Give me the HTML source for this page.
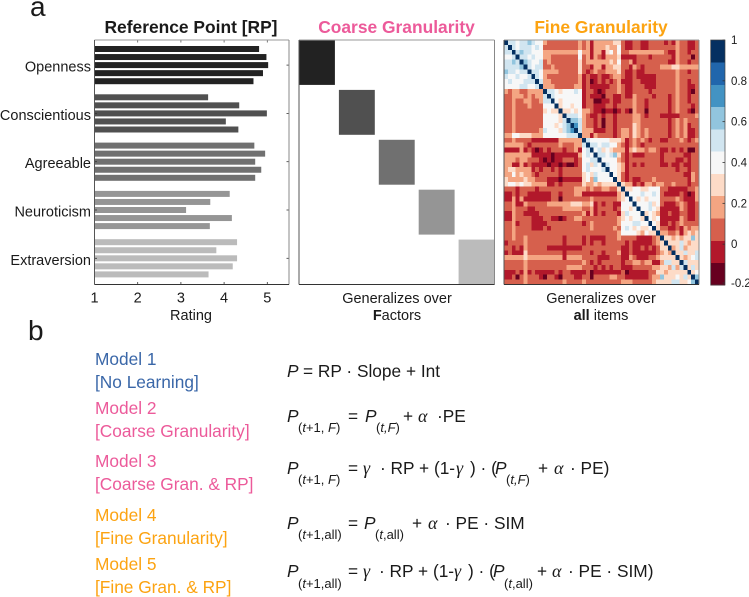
<!DOCTYPE html>
<html lang="en">
<head>
<meta charset="utf-8">
<title>Reference point and granularity models</title>
<style>
html,body{margin:0;padding:0;background:#fff}
svg{display:block}
text{font-family:"Liberation Sans",Arial,sans-serif;fill:#1a1a1a}
.ttl{font-size:17.4px;font-weight:bold;text-anchor:middle}
.lab{font-size:14.5px}
.mid{text-anchor:middle}
.end{text-anchor:end}
.mod{font-size:17.3px}
.eq{font-size:17.3px}
.sub{font-size:13px}
.sym{font-family:"Liberation Serif","DejaVu Serif",serif;font-style:italic;font-size:18px}
.it{font-style:italic}
</style>
</head>
<body>
<svg id="fig" width="749" height="597" viewBox="0 0 749 597" xmlns="http://www.w3.org/2000/svg">
<rect width="749" height="597" fill="#fff"/>
<text x="30" y="16" font-size="28">a</text>
<text x="28" y="340" font-size="28">b</text>

<text class="ttl" x="191" y="33">Reference Point [RP]</text>
<text class="ttl" x="396.5" y="33" style="fill:#ec5a9a">Coarse Granularity</text>
<text class="ttl" x="601" y="33" style="fill:#fca311">Fine Granularity</text>

<g id="bars"></g>
<g id="coarse"></g>
<g id="fine"></g>
<g id="cbar"></g>

<text class="lab mid" x="191" y="320">Rating</text>
<text class="lab mid" x="397" y="303">Generalizes over</text>
<text class="lab mid" x="397" y="320"><tspan font-weight="bold">F</tspan>actors</text>
<text class="lab mid" x="601" y="303">Generalizes over</text>
<text class="lab mid" x="601" y="320"><tspan font-weight="bold">all</tspan> items</text>

<g>
<text class="mod" x="95" y="365" style="fill:#3a67a8">Model 1</text>
<text class="mod" x="95" y="388" style="fill:#3a67a8">[No Learning]</text>
<text class="mod" x="95" y="414" style="fill:#ec5a9a">Model 2</text>
<text class="mod" x="95" y="437" style="fill:#ec5a9a">[Coarse Granularity]</text>
<text class="mod" x="95" y="467" style="fill:#ec5a9a">Model 3</text>
<text class="mod" x="95" y="490" style="fill:#ec5a9a">[Coarse Gran. &amp; RP]</text>
<text class="mod" x="95" y="521" style="fill:#fca311">Model 4</text>
<text class="mod" x="95" y="544" style="fill:#fca311">[Fine Granularity]</text>
<text class="mod" x="95" y="570" style="fill:#fca311">Model 5</text>
<text class="mod" x="95" y="593" style="fill:#fca311">[Fine Gran. &amp; RP]</text>
</g>

<g>
<text class="eq it" x="287" y="377">P</text>
<text class="eq" x="303" y="377">= RP  ·  Slope + Int</text>
</g>
<g>
<text class="eq it" x="287" y="422">P</text>
<text class="sub" x="298" y="432">(<tspan class="it">t</tspan>+1, <tspan class="it">F</tspan>)</text>
<text class="eq" x="348" y="422">=</text>
<text class="eq it" x="365" y="422">P</text>
<text class="sub" x="376" y="432">(<tspan class="it">t,F</tspan>)</text>
<text class="eq" x="403" y="422">+</text>
<text class="sym" x="418" y="422">α</text>
<text class="eq" x="437" y="422">·PE</text>
</g>
<g>
<text class="eq it" x="287" y="474">P</text>
<text class="sub" x="298" y="484">(<tspan class="it">t</tspan>+1, <tspan class="it">F</tspan>)</text>
<text class="eq" x="348" y="474">=</text>
<text class="sym" x="363" y="474">γ</text>
<text class="eq" x="380" y="474">· RP + (1-</text>
<text class="sym" x="456" y="474">γ</text>
<text class="eq" x="470" y="474">) · (</text>
<text class="eq it" x="495" y="474">P</text>
<text class="sub" x="506" y="484">(<tspan class="it">t,F</tspan>)</text>
<text class="eq" x="538" y="474">+</text>
<text class="sym" x="554" y="474">α</text>
<text class="eq" x="570" y="474">· PE)</text>
</g>
<g>
<text class="eq it" x="287" y="529">P</text>
<text class="sub" x="298" y="539">(<tspan class="it">t</tspan>+1,all)</text>
<text class="eq" x="348" y="529">=</text>
<text class="eq it" x="364" y="529">P</text>
<text class="sub" x="375" y="539">(<tspan class="it">t</tspan>,all)</text>
<text class="eq" x="412" y="529">+</text>
<text class="sym" x="428" y="529">α</text>
<text class="eq" x="445" y="529">· PE · SIM</text>
</g>
<g>
<text class="eq it" x="287" y="577">P</text>
<text class="sub" x="298" y="588">(<tspan class="it">t</tspan>+1,all)</text>
<text class="eq" x="348" y="577">=</text>
<text class="sym" x="363" y="577">γ</text>
<text class="eq" x="379" y="577">· RP + (1-</text>
<text class="sym" x="454" y="577">γ</text>
<text class="eq" x="468" y="577">) · (</text>
<text class="eq it" x="493" y="577">P</text>
<text class="sub" x="504" y="588">(<tspan class="it">t</tspan>,all)</text>
<text class="eq" x="537" y="577">+</text>
<text class="sym" x="552" y="577">α</text>
<text class="eq" x="568" y="577">· PE · SIM)</text>
</g>
</svg>

<script>
// ---------- data ----------
const factorNames = ['Openness','Conscientious','Agreeable','Neuroticism','Extraversion'];
const opennessRatings = [4.81,4.98,5.02,4.90,4.68];
const conscientiousRatings = [3.63,4.35,4.99,4.04,4.33];
const agreeableRatings = [4.70,4.95,4.72,4.86,4.72];
const neuroticismRatings = [4.13,3.68,3.12,4.18,3.67];
const extraversionRatings = [4.30,3.82,4.30,4.20,3.64];
const ratingTicks = [1,2,3,4,5];
const coarseBlockSpans = [9,9,9,9,9];
const colorbarTicks = [1,0.8,0.6,0.4,0.2,0,-0.2];
// similarity matrix, upper triangle from the diagonal; each number is a colorbar bin, 0 (lowest) to 10 (highest)
const fineSimilarityBins = [
[10,6,6,5,6,6,7,6,5,5,3,2,2,2,2,2,2,2,2,3,2,3,1,3,3,3,3,3,4,4,2,1,1,2,2,1,1,2,2,2,2,1,2,1,3,2,2,1,1,2],
[10,6,5,6,6,6,5,6,5,2,2,2,2,2,2,2,2,2,3,2,3,1,3,3,3,4,3,3,5,2,1,1,2,2,1,1,2,2,2,2,2,2,2,3,2,2,1,1,2],
[10,6,7,6,6,5,5,5,3,3,3,3,3,3,3,3,3,5,3,3,1,3,3,1,4,5,3,5,2,2,3,3,3,3,3,3,3,3,3,2,1,1,3,2,2,1,2,2],
[10,6,6,5,6,5,5,3,3,2,2,2,2,2,2,2,5,2,3,1,3,2,1,3,3,3,4,1,1,1,1,2,2,2,1,2,2,2,2,2,1,3,2,2,2,0,2],
[10,7,6,5,5,6,2,3,2,2,2,2,2,2,2,4,2,3,3,3,3,3,3,4,3,5,2,2,3,1,2,2,2,2,2,2,2,2,1,1,3,2,2,1,2,2],
[10,6,5,6,6,2,2,3,2,2,2,2,2,2,4,2,2,1,3,3,1,3,3,4,4,2,2,1,3,2,1,2,2,2,2,3,3,3,4,4,3,3,3,3,3],
[10,6,6,5,3,3,3,3,2,2,2,2,2,4,2,1,2,3,2,2,3,3,3,4,2,1,1,2,1,1,2,2,2,2,2,2,2,2,3,2,2,1,2,2],
[10,6,5,3,2,2,2,2,2,2,2,2,3,1,2,1,1,2,1,1,2,3,3,2,1,1,2,1,1,1,1,1,2,2,2,2,2,3,2,2,2,2,2],
[10,6,3,3,2,2,2,2,2,2,2,3,1,2,0,1,2,1,2,1,2,3,1,1,1,2,2,1,1,1,1,2,2,2,2,2,3,2,2,1,2,2],
[10,3,3,3,2,2,2,2,2,3,3,1,2,1,1,1,1,1,2,2,3,2,1,1,2,2,2,1,1,1,2,2,2,2,2,3,2,2,1,1,2],
[10,6,6,5,4,5,5,5,6,5,1,2,2,1,0,1,2,2,2,3,2,1,1,2,2,2,2,1,2,2,2,2,2,2,3,2,2,1,0,2],
[10,6,5,5,5,5,5,5,5,1,2,1,1,1,0,2,2,1,1,2,1,1,3,2,2,2,2,1,2,2,2,1,2,3,2,2,1,2,2],
[10,5,4,5,5,5,5,5,1,2,2,0,0,1,1,2,1,1,2,2,2,3,2,2,1,2,2,2,2,2,1,2,3,2,2,1,2,2],
[10,4,5,5,4,5,5,1,2,2,1,1,1,2,2,1,2,2,2,2,3,2,2,1,2,2,2,2,2,1,2,3,2,2,2,1,2],
[10,4,4,5,4,5,3,3,2,1,1,0,1,1,0,1,2,1,0,3,2,2,0,2,2,2,2,2,1,2,3,2,2,1,0,2],
[10,6,6,6,5,3,2,1,1,2,1,2,2,1,2,2,2,2,3,3,2,1,2,2,2,1,1,1,1,1,2,2,2,2,3],
[10,7,7,6,3,2,2,1,2,0,2,2,1,2,2,2,2,3,3,2,2,2,2,2,2,2,1,2,3,2,3,2,2,2],
[10,8,6,3,2,2,1,2,0,2,2,1,2,2,2,2,4,3,2,2,2,2,2,2,2,1,2,3,2,3,1,2,2],
[10,6,3,3,3,1,1,1,2,2,1,2,3,3,2,4,3,2,3,2,2,2,2,2,1,2,3,2,3,1,1,2],
[10,3,3,1,3,2,2,2,2,1,2,3,3,2,4,3,2,3,2,2,2,2,2,1,2,3,2,3,1,1,2],
[10,6,5,5,5,5,5,4,4,4,3,1,2,3,2,3,2,1,2,2,1,1,2,2,2,3,2,1,2,3],
[10,6,6,5,6,6,5,5,3,2,1,2,3,2,1,2,2,2,2,2,2,2,2,2,2,2,2,2,2],
[10,5,6,4,5,4,3,3,3,1,3,4,3,3,2,3,3,2,1,1,2,1,2,1,2,0,0,2],
[10,6,6,5,6,7,4,2,1,2,1,1,1,2,2,2,2,1,2,2,2,2,2,1,1,2,2],
[10,5,5,5,5,3,2,1,2,2,2,2,2,2,2,2,1,2,2,2,1,1,2,1,2,2],
[10,6,5,5,4,3,1,2,1,2,1,2,2,2,2,1,1,2,1,1,2,1,1,2,2],
[10,5,5,4,3,1,2,2,2,2,2,2,2,2,2,2,2,2,1,2,2,1,2,2],
[10,5,4,2,1,2,2,2,2,2,2,2,2,2,2,2,2,2,2,1,1,3,2],
[10,4,2,1,2,1,1,2,2,2,3,2,2,2,2,2,2,2,2,1,3,2],
[10,4,3,3,1,2,1,3,3,2,3,3,2,2,3,2,2,2,1,2,2],
[10,4,4,5,5,4,4,5,5,5,2,2,1,1,1,1,1,2,2,3],
[10,5,5,5,6,5,5,6,5,2,1,1,1,1,2,1,0,1,3],
[10,5,4,5,4,5,5,5,2,2,2,2,3,2,1,1,1,3],
[10,5,5,5,6,4,5,2,1,1,1,2,3,2,1,1,2],
[10,5,5,6,5,4,1,1,1,1,1,3,2,1,1,2],
[10,4,5,4,3,1,1,2,1,1,2,2,1,1,2],
[10,5,4,5,1,1,1,1,1,3,2,1,1,2],
[10,5,4,1,1,2,1,2,3,2,2,2,2],
[10,4,2,2,1,1,2,1,3,2,3,3],
[10,3,3,2,2,3,1,3,4,3,4],
[10,4,4,3,4,3,4,4,7,4],
[10,4,4,4,6,4,3,4,4],
[10,3,4,6,3,4,4,4],
[10,4,4,6,4,4,6],
[10,4,3,4,5,6],
[10,6,4,4,4],
[10,4,6,4],
[10,4,5],
[10,7],
[10]
];

// ---------- helpers ----------
const NS = 'http://www.w3.org/2000/svg';
function mk(parent, tag, attrs, txt){
  const e = document.createElementNS(NS, tag);
  for (const k in attrs) e.setAttribute(k, attrs[k]);
  if (txt !== undefined) e.textContent = txt;
  parent.appendChild(e);
  return e;
}
const palette = ['#67001f','#b2182b','#d6604d','#f4a582','#fddbc7','#f7f7f7','#d1e5f0','#92c5de','#4393c3','#2166ac','#053061'];
const factorGreys = ['#222222','#505050','#707070','#959595','#bbbbbb'];

// ---------- bar chart ----------
const barsG = document.getElementById('bars');
const barLeft = 94.5, barRight = 289, barTop = 40, barBottom = 284.5;
const xRating = v => barLeft + (v - 1) * 43.2;
const ySlot = s => 49 + s * 8.05;
const ratingGroups = [opennessRatings,conscientiousRatings,agreeableRatings,neuroticismRatings,extraversionRatings];
ratingGroups.forEach((group, g) => {
  group.forEach((v, i) => {
    const slot = g * 6 + i;
    const r = mk(barsG, 'rect', {x:barLeft, y:ySlot(slot)-3, width:xRating(v)-barLeft, height:6, fill:factorGreys[g]});
    
    
  });
  const yc = ySlot(g * 6 + 2);
  const lab = mk(barsG, 'text', {x:91, y:yc+6.5, class:'lab end'}, factorNames[g]);
  
  
  mk(barsG, 'line', {x1:barLeft, x2:barLeft+2.5, y1:yc, y2:yc, stroke:'#333', 'stroke-width':0.8});
  mk(barsG, 'line', {x1:barRight-2.5, x2:barRight, y1:yc, y2:yc, stroke:'#333', 'stroke-width':0.8});
});
ratingTicks.forEach(t => {
  const x = xRating(t);
  mk(barsG, 'line', {x1:x, x2:x, y1:barBottom-2.5, y2:barBottom, stroke:'#333', 'stroke-width':0.8});
  mk(barsG, 'line', {x1:x, x2:x, y1:barTop, y2:barTop+2.5, stroke:'#555', 'stroke-width':0.8});
  const tl = mk(barsG, 'text', {x:x, y:302.5, class:'lab mid'}, t);
  
  
});
function frame(g, l, r, t, b){
  mk(g, 'line', {x1:l, x2:r, y1:t, y2:t, stroke:'#999', 'stroke-width':1});
  mk(g, 'line', {x1:r, x2:r, y1:t, y2:b, stroke:'#888', 'stroke-width':1});
  mk(g, 'line', {x1:l, x2:l, y1:t, y2:b, stroke:'#555', 'stroke-width':1});
  mk(g, 'line', {x1:l, x2:r, y1:b, y2:b, stroke:'#333', 'stroke-width':1});
}
frame(barsG, barLeft, barRight, barTop, barBottom);

// ---------- coarse matrix ----------
const coarseG = document.getElementById('coarse');
const cL = 299, cR = 494.5, cT = 40, cB = 284.5;
const coarseSlots = coarseBlockSpans.reduce((a, b) => a + b, 0) + coarseBlockSpans.length - 1;
const cx = s => cL + s * (cR - cL) / coarseSlots;
const cy = s => cT + s * (cB - cT) / coarseSlots;
let coarseStart = 0;
coarseBlockSpans.forEach((span, i) => {
  const r = mk(coarseG, 'rect', {x:cx(coarseStart), y:cy(coarseStart), width:cx(span)-cL, height:cy(span)-cT, fill:factorGreys[i]});
  
  
  coarseStart += span + 1;
});
frame(coarseG, cL, cR, cT, cB);

// ---------- fine matrix ----------
const fineG = document.getElementById('fine');
const fL = 504, fR = 699, fT = 40, fB = 284.5;
const fn = fineSimilarityBins.length;
const fx = c => fL + c * (fR - fL) / fn;
const fy = r => fT + r * (fB - fT) / fn;
function drawCell(row, col, bin){
  const r = mk(fineG, 'rect', {x:fx(col), y:fy(row), width:fx(col+1)-fx(col), height:fy(row+1)-fy(row), fill:palette[bin], 'shape-rendering':'crispEdges'});
  
  
}
fineSimilarityBins.forEach((rowVals, i) => {
  rowVals.forEach((bin, k) => {
    const j = i + k;
    drawCell(i, j, bin);
    if (j !== i) drawCell(j, i, bin);
  });
});
frame(fineG, fL, fR, fT, fB);

// ---------- colorbar ----------
const cbG = document.getElementById('cbar');
const bL = 710.7, bR = 725, bT = 40, bB = 285;
const bY = v => bT + (1 - v) * (bB - bT) / 1.2;
palette.forEach((col, i) => {
  const h = (bB - bT) / palette.length;
  const r = mk(cbG, 'rect', {x:bL, y:bB-(i+1)*h, width:bR-bL, height:h+0.3, fill:col, 'shape-rendering':'crispEdges'});
  
  
});
colorbarTicks.forEach(t => {
  const y = Math.min(bB - 2, Math.max(bT, bY(t)));
  mk(cbG, 'line', {x1:bR-2.5, x2:bR, y1:y, y2:y, stroke:'#333', 'stroke-width':0.8});
  const tl = mk(cbG, 'text', {x:731, y:y+4, 'font-size':'11.5px'}, t);
  
  
});
mk(cbG, 'rect', {x:bL, y:bT, width:bR-bL, height:bB-bT, fill:'none', stroke:'#444', 'stroke-width':0.7});
</script>
</body>
</html>
